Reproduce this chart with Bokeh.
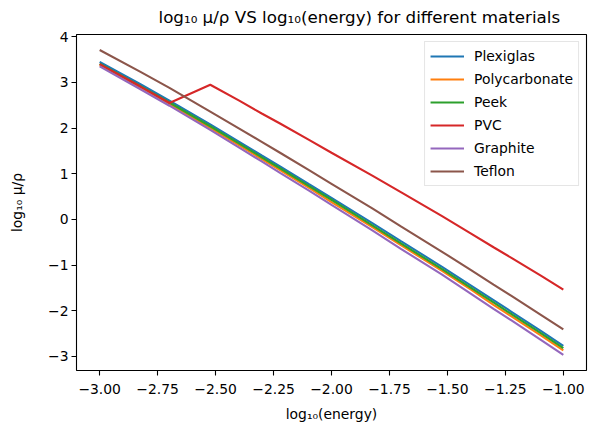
from bokeh.plotting import figure
from bokeh.models import FixedTicker, Legend, LegendItem, Range1d
from bokeh.embed import file_html
from bokeh.resources import INLINE

# log10(energy / MeV) at tabulated energies 1 keV ... 100 keV
log_energy = [-3.0, -2.824, -2.699, -2.523, -2.398, -2.301, -2.222, -2.097, -2.0,
              -1.824, -1.699, -1.523, -1.398, -1.301, -1.222, -1.097, -1.0]

plexiglas = [3.45, 2.96, 2.60, 2.08, 1.70, 1.40, 1.16, 0.77, 0.47,
             -0.08, -0.48, -1.04, -1.45, -1.77, -2.03, -2.44, -2.77]
polycarbonate = [3.38, 2.89, 2.53, 2.00, 1.62, 1.32, 1.08, 0.69, 0.38,
                 -0.17, -0.57, -1.13, -1.54, -1.87, -2.13, -2.54, -2.87]
peek = [3.41, 2.92, 2.56, 2.04, 1.66, 1.36, 1.12, 0.73, 0.43,
        -0.13, -0.53, -1.09, -1.50, -1.82, -2.08, -2.49, -2.82]
pvc = [3.40, 2.91, 2.55, 2.95, 2.60, 2.32, 2.10, 1.74, 1.46,
       0.96, 0.59, 0.07, -0.31, -0.61, -0.85, -1.23, -1.54]
graphite = [3.35, 2.85, 2.49, 1.96, 1.57, 1.27, 1.02, 0.63, 0.32,
            -0.24, -0.65, -1.21, -1.63, -1.96, -2.22, -2.64, -2.97]
teflon = [3.71, 3.23, 2.88, 2.36, 1.99, 1.70, 1.46, 1.08, 0.78,
          0.24, -0.16, -0.71, -1.11, -1.43, -1.68, -2.09, -2.41]

materials = ["Plexiglas", "Polycarbonate", "Peek", "PVC", "Graphite", "Teflon"]
series = [plexiglas, polycarbonate, peek, pvc, graphite, teflon]
colors = ["#1f77b4", "#ff7f0e", "#2ca02c", "#d62728", "#9467bd", "#8c564b"]

x_ticks = [-3.0, -2.75, -2.5, -2.25, -2.0, -1.75, -1.5, -1.25, -1.0]
y_ticks = [-3, -2, -1, 0, 1, 2, 3, 4]

FONT = "DejaVu Sans"

p = figure(width=592, height=428, output_backend="svg", toolbar_location=None,
           x_range=Range1d(-3.1, -0.9), y_range=Range1d(-3.31, 4.05),
           min_border_left=76, min_border_right=6, min_border_top=33, min_border_bottom=58,
           title="log\u2081\u2080 \u03bc/\u03c1 VS log\u2081\u2080(energy) for different materials")

p.title.align = "left"
p.title.offset = 82
p.title.vertical_align = "top"
p.title.text_font = FONT
p.title.text_font_size = "16.7px"
p.title.text_font_style = "normal"
p.title.text_color = "black"
p.title.standoff = 12

items = []
for name, ys, c in zip(materials, series, colors):
    r = p.line(log_energy, ys, line_color=c, line_width=2.1)
    items.append(LegendItem(label=name, renderers=[r]))

legend = Legend(items=items, location="top_right")
legend.label_text_font = FONT
legend.label_text_font_size = "13.9px"
legend.label_text_color = "black"
legend.glyph_width = 34
legend.glyph_height = 18
legend.label_height = 18
legend.label_standoff = 10
legend.spacing = 5
legend.padding = 5
legend.margin = 7
legend.border_line_color = "#cccccc"
legend.border_line_width = 1
legend.background_fill_alpha = 0.8
p.add_layout(legend)

p.grid.visible = False
p.outline_line_color = "black"
p.outline_line_width = 1.1
p.background_fill_color = "white"
p.border_fill_color = "white"

p.xaxis.ticker = FixedTicker(ticks=x_ticks)
p.xaxis.major_label_overrides = {t: ("\u2212%.2f" % abs(t)) for t in x_ticks}
p.yaxis.ticker = FixedTicker(ticks=y_ticks)
p.yaxis.major_label_overrides = {t: (("\u2212%d" % abs(t)) if t < 0 else "%d" % t) for t in y_ticks}

p.xaxis.axis_label = "log\u2081\u2080(energy)"
p.yaxis.axis_label = "log\u2081\u2080 \u03bc/\u03c1"

for ax in (p.xaxis[0], p.yaxis[0]):
    ax.axis_line_color = None
    ax.minor_tick_line_color = None
    ax.major_tick_in = 0
    ax.major_tick_out = 5
    ax.major_tick_line_color = "black"
    ax.major_tick_line_width = 1.1
    ax.major_label_text_font = FONT
    ax.major_label_text_font_size = "13.9px"
    ax.major_label_text_color = "black"
    ax.axis_label_text_font = FONT
    ax.axis_label_text_font_size = "13.9px"
    ax.axis_label_text_font_style = "normal"
    ax.axis_label_text_color = "black"
    ax.major_label_standoff = 3

p.xaxis[0].major_label_standoff = 8
p.xaxis.axis_label_standoff = 9
p.yaxis.axis_label_standoff = 20

open("out.html", "w").write(file_html(p, INLINE))
